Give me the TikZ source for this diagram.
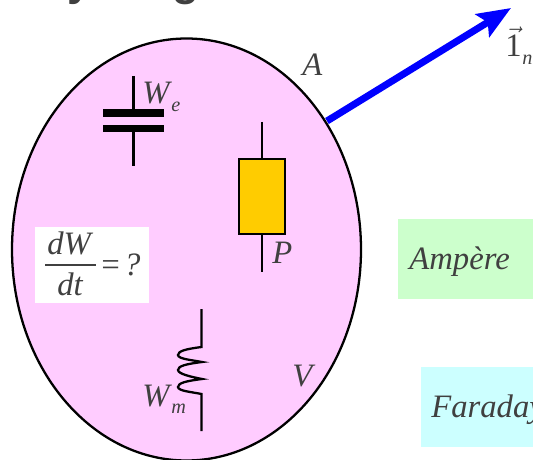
\documentclass[tikz,border=0pt]{standalone}
\usepackage{amsmath}
\usepackage{fontspec}
\setmainfont{Liberation Serif}
\newfontfamily\headfont{Liberation Sans}
\usetikzlibrary{arrows.meta}
\definecolor{volpink}{HTML}{FFCCFF}
\definecolor{resyellow}{HTML}{FFCC00}
\definecolor{ampgreen}{HTML}{CCFFCC}
\definecolor{farcyan}{HTML}{CCFFFF}
\definecolor{txtgray}{HTML}{404040}
\tikzset{
  lbl/.style={anchor=base west, inner sep=0pt, text=txtgray, font=\fontsize{18.6}{20}\selectfont\itshape},
  sublbl/.style={anchor=base west, inner sep=0pt, text=txtgray, font=\fontsize{11.5}{13}\selectfont\itshape},
  wire/.style={line width=1.3pt, line cap=butt},
  plate/.style={line width=4.5pt},
}
\begin{document}
\begin{tikzpicture}[x=0.02cm, y=-0.02cm]
\clip (0,0) rectangle (533,459);
% Hintergrund
\fill[white] (0,0) rectangle (533,459);
% Titel, nur Unterlaengen sichtbar
\node[anchor=base west, inner sep=0pt, text=txtgray, font=\fontsize{25}{28}\selectfont\headfont\bfseries] (title) at (11,-4) {Poynting};
% Volumen
\draw[fill=volpink, line width=1.3pt] (186.5,249.5) ellipse [x radius=174.5, y radius=211];
% Pfeil 1_n
\coordinate (N0) at (327,121);
\coordinate (N1) at (511,8);
\draw[blue, line width=4pt, -{Stealth[length=19pt, width=15pt, inset=3.5pt]}] (N0) -- (N1);
% Kondensator
\coordinate (C0) at (133.5,76);
\coordinate (C1) at (133.5,113);
\coordinate (C2) at (133.5,128.5);
\coordinate (C3) at (133.5,166);
\draw[wire] (C0) -- (C1);
\draw[wire] (C2) -- (C3);
\draw[plate] (103,113) -- (164,113);
\draw[plate] (103,128.5) -- (164,128.5);
% Widerstand
\coordinate (R0) at (262,122);
\coordinate (R1) at (262,272);
\draw[wire] (R0) -- (R1);
\node[draw=black, fill=resyellow, line width=1.3pt, minimum width=26pt, minimum height=43pt, inner sep=0pt] (res) at (262,196.5) {};
% Spule
\coordinate (L0) at (201.5,309);
\coordinate (L1) at (201.5,431);
\draw[line width=1.3pt] (L0) -- (201.5,347)
  .. controls (186,349) and (178,351) .. (178,355)
  .. controls (178,359) and (192,360) .. (202,362)
  .. controls (186,364) and (178,366) .. (178,370)
  .. controls (178,374) and (192,377) .. (202,379)
  .. controls (186,381) and (178,383) .. (178,387)
  .. controls (178,391) and (192,392) .. (201.5,394) -- (L1);
% Kaesten
\node[fill=ampgreen, minimum width=76.6pt, minimum height=45.4pt, inner sep=0pt] (amp) at (465.5,259) {};
\node[fill=farcyan, minimum width=63.5pt, minimum height=45.4pt, inner sep=0pt] (far) at (477,407) {};
\node[fill=white, minimum width=64.6pt, minimum height=43.1pt, inner sep=0pt] (frac) at (92,265) {};
% Beschriftungen
\node[lbl] (ampt) at (409,269) {Ampère};
\node[lbl] (fart) at (431,417) {Faraday};
\node[lbl] (dW) at (47,254) {dW};
\node[lbl] (dt) at (57,295) {dt};
\draw[txtgray, line width=1.1pt] (45,265) -- (96,265);
\node[lbl] (eq) at (99,275) {=\hspace{1.5pt}?};
\node[lbl] (A) at (302,76) {A};
\node[lbl] (V) at (292,386) {V};
\node[lbl] (P) at (272,263) {P};
\node[lbl] (We) at (142,104) {W};
\node[sublbl] (Wes) at (171,112) {e};
\node[lbl] (Wm) at (142,406) {W};
\node[sublbl] (Wms) at (171,413) {m};
\node[lbl, font=\fontsize{18.6}{20}\selectfont] (one) at (505,57) {$\vec{\text{1}}$};
\node[sublbl] (ones) at (522,65) {n};
\end{tikzpicture}
\end{document}
